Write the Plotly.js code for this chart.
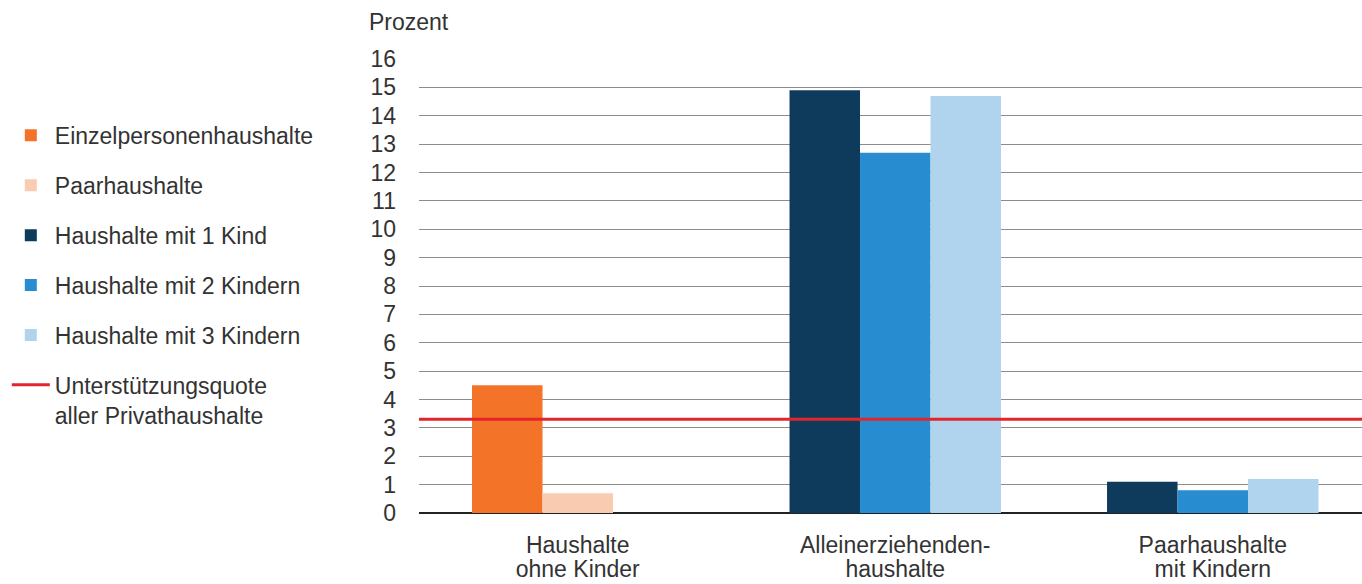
<!DOCTYPE html>
<html>
<head>
<meta charset="utf-8">
<script src="https://cdn.plot.ly/plotly-3.0.1.min.js"></script>
<style>html,body{margin:0;padding:0;background:#fff;}#chart{width:1362px;height:584px;}</style>
</head>
<body>
<div id="chart"></div>
<script>
const categories = ['Haushalte<br>ohne Kinder', 'Alleinerziehenden-<br>haushalte', 'Paarhaushalte<br>mit Kindern'];
const einzelpersonen = [4.5, null, null];
const paarhaushalte = [0.7, null, null];
const mit1Kind = [null, 14.9, 1.1];
const mit2Kindern = [null, 12.7, 0.8];
const mit3Kindern = [null, 14.7, 1.2];
const unterstuetzungsquote = 3.3;
const yTicks = [0,1,2,3,4,5,6,7,8,9,10,11,12,13,14,15,16];

const FONT = 'Liberation Sans, Arial, sans-serif';
const FS = 23;
const TXT = '#333333';
const W = 0.222;
const XRANGE = [-0.5, 2.47];

const line1 = categories.map(c => c.split('<br>')[0]);
const line2 = categories.map(c => c.split('<br>')[1]);
const catIndex = categories.map((c, i) => i);

function bar(name, y, color, offset, group) {
  return {type:'bar', name:name, x:categories, y:y, marker:{color:color, line:{width:0}},
    width:W, offset:offset, legendgroup:group, hoverinfo:'skip'};
}

const traces = [
  bar('Einzelpersonenhaushalte', einzelpersonen, '#f37329', -0.333, 'a'),
  bar('Paarhaushalte', paarhaushalte, '#f9cbb0', -0.111, 'b'),
  bar('Haushalte mit 1 Kind', mit1Kind, '#0e3a5c', -0.333, 'c'),
  bar('Haushalte mit 2 Kindern', mit2Kindern, '#288dd0', -0.111, 'd'),
  bar('Haushalte mit 3 Kindern', mit3Kindern, '#b0d4ee', 0.111, 'e'),
  {type:'scatter', mode:'lines', name:'Unterstützungsquote<br>aller Privathaushalte',
   x:XRANGE, y:[unterstuetzungsquote, unterstuetzungsquote], xaxis:'x2', yaxis:'y',
   line:{color:'#e3242b', width:3}, legendgroup:'f', hoverinfo:'skip', cliponaxis:false}
];

const tf = {family:FONT, size:FS, color:TXT};

const layout = {
  width:1362, height:584,
  margin:{l:419, r:0, t:59, b:71},
  paper_bgcolor:'#fff', plot_bgcolor:'#fff',
  font:tf,
  barmode:'overlay',
  showlegend:true,
  legend:{xref:'container', yref:'container', x:0.005, y:0.805, xanchor:'left', yanchor:'top',
    traceorder:'grouped', tracegroupgap:17, valign:'top', font:tf, maxheight:520,
    bgcolor:'rgba(0,0,0,0)', itemwidth:38},
  xaxis:{type:'category', range:XRANGE, tickvals:categories, ticktext:line1,
    showgrid:false, zeroline:false, showline:false,
    ticks:'', tickfont:tf, ticklabelstandoff:16, automargin:false, fixedrange:true},
  xaxis2:{overlaying:'x', type:'linear', range:XRANGE, anchor:'y', side:'bottom', tickvals:catIndex, ticktext:line2,
    showgrid:false, zeroline:false, showline:false, ticks:'', tickfont:tf, ticklabelstandoff:40, automargin:false, fixedrange:true},
  yaxis:{range:[0,16], tickvals:yTicks, ticktext:yTicks.map(String), showgrid:true, gridcolor:'#8c8c8c', gridwidth:1,
    zeroline:true, zerolinecolor:'#222', zerolinewidth:1.3, showline:false, ticks:'',
    tickfont:tf, ticklabelstandoff:22, automargin:false, fixedrange:true},
  annotations:[{text:'Prozent', xref:'paper', yref:'paper', x:-0.055, y:1.0815, xanchor:'left', yanchor:'middle',
    showarrow:false, font:tf}]
};

Plotly.newPlot('chart', traces, layout, {displayModeBar:false, staticPlot:true});
</script>
</body>
</html>
